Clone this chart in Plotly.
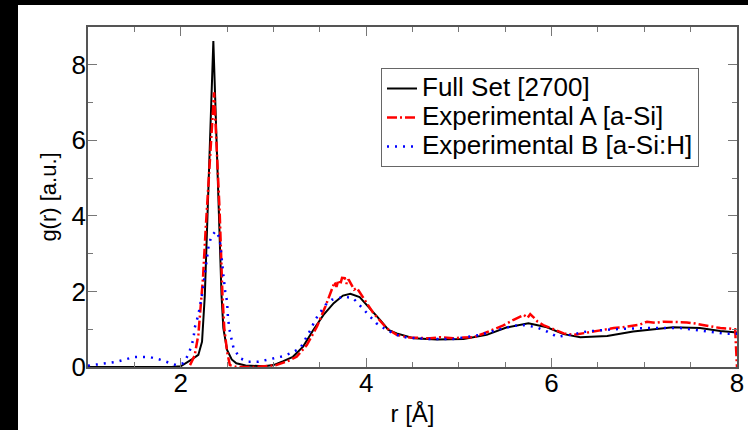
import plotly.graph_objects as go

# Full Set [2700]
full_r = [1.0, 1.5, 1.9, 2.0, 2.06, 2.12, 2.19, 2.23, 2.26, 2.352, 2.44, 2.46, 2.50, 2.55, 2.6, 2.7,
          2.9, 3.0, 3.1, 3.21, 3.32, 3.43, 3.54, 3.65, 3.75, 3.83, 3.93, 4.04, 4.15, 4.24, 4.33,
          4.51, 4.76, 5.05, 5.3, 5.52, 5.75, 5.95, 6.13, 6.31, 6.6, 6.88, 7.1, 7.31, 7.6, 7.82, 8.0]
full_g = [0, 0, 0, 0.02, 0.1, 0.2, 0.32, 0.67, 1.9, 8.63, 1.91, 1.03, 0.45, 0.2, 0.1, 0.04,
          0.02, 0.05, 0.15, 0.27, 0.54, 0.98, 1.38, 1.69, 1.89, 1.94, 1.85, 1.56, 1.25, 0.98, 0.89,
          0.76, 0.73, 0.74, 0.85, 1.05, 1.16, 1.05, 0.87, 0.79, 0.82, 0.94, 1.0, 1.05, 1.03, 0.95, 0.91]

# Experimental A [a-Si]
expa_r = [2.10, 2.15, 2.19, 2.21, 2.24, 2.27, 2.29, 2.36, 2.42, 2.43, 2.45, 2.47, 2.50, 2.53, 2.6,
          2.8, 2.95, 3.03, 3.15, 3.25, 3.36, 3.47, 3.56, 3.63, 3.66, 3.68, 3.70, 3.72, 3.74, 3.77,
          3.79, 3.81, 3.84, 3.87, 3.9, 3.97, 4.08, 4.22, 4.33, 4.47, 4.69, 4.8, 4.94, 5.05, 5.16,
          5.26, 5.37, 5.48, 5.59, 5.65, 5.7, 5.74, 5.77, 5.8, 5.85, 5.91, 6.02, 6.13, 6.24, 6.35,
          6.45, 6.55, 6.67, 6.76, 6.85, 6.95, 7.03, 7.12, 7.21, 7.33, 7.46, 7.55, 7.67, 7.75, 7.82,
          7.9, 7.98, 8.0]
expa_g = [0.05, 0.3, 0.85, 1.47, 2.35, 3.69, 4.56, 7.27, 4.12, 3.24, 1.91, 1.03, 0.41, 0.05, 0.0,
          0.0, 0.02, 0.05, 0.15, 0.27, 0.58, 1.07, 1.6, 2.04, 2.25, 2.12, 2.3, 2.18, 2.36, 2.35,
          2.2, 2.32, 2.18, 2.05, 2.09, 1.82, 1.42, 1.03, 0.85, 0.78, 0.76, 0.79, 0.76, 0.78, 0.79,
          0.88, 0.98, 1.1, 1.25, 1.33, 1.38, 1.3, 1.4, 1.33, 1.2, 1.11, 1.0, 0.89, 0.85, 0.9,
          0.94, 0.98, 1.03, 1.05, 1.09, 1.12, 1.2, 1.17, 1.2, 1.19, 1.18, 1.15, 1.09, 1.07, 1.03,
          1.02, 1.0, 0.0]

# Experimental B [a-Si:H]
expb_r = [1.0, 1.02, 1.11, 1.2, 1.31, 1.4, 1.49, 1.57, 1.67, 1.77, 1.86, 1.95, 2.03, 2.08, 2.12,
          2.14, 2.15, 2.19, 2.23, 2.25, 2.28, 2.30, 2.33, 2.378, 2.42, 2.44, 2.46, 2.48, 2.50, 2.51,
          2.53, 2.57, 2.64, 2.73, 2.84, 2.93, 3.02, 3.11, 3.2, 3.29, 3.34, 3.41, 3.45, 3.5, 3.56,
          3.63, 3.7, 3.77, 3.86, 3.93, 4.0, 4.06, 4.11, 4.22, 4.33, 4.44, 4.69, 4.94, 5.23, 5.41,
          5.59, 5.7, 5.84, 5.95, 6.06, 6.2, 6.38, 6.67, 7.03, 7.39, 7.64, 7.89, 8.0]
expb_g = [0.03, 0.05, 0.07, 0.1, 0.14, 0.2, 0.26, 0.27, 0.26, 0.2, 0.12, 0.05, 0.1, 0.32, 0.58,
          0.8, 1.03, 1.38, 1.91, 2.3, 2.93, 3.19, 3.46, 3.6, 3.41, 2.8, 2.44, 2.0, 1.73, 1.29,
          0.94, 0.5, 0.23, 0.14, 0.14, 0.19, 0.23, 0.29, 0.38, 0.5, 0.72, 1.03, 1.25, 1.42, 1.64,
          1.78, 1.82, 1.86, 1.82, 1.64, 1.47, 1.29, 1.16, 0.98, 0.85, 0.78, 0.74, 0.74, 0.85, 0.98,
          1.09, 1.11, 1.05, 0.94, 0.8, 0.85, 0.94, 1.0, 1.03, 1.03, 0.96, 0.88, 0.88]

series_names = ["Full Set [2700]", "Experimental A [a-Si]", "Experimental B [a-Si:H]"]

x_ticks = [2, 4, 6, 8]
y_ticks = [0, 2, 4, 6, 8]

FONT = "Liberation Sans, Arial, Helvetica, sans-serif"
LEGEND_TEXT = "<span style='font-size:26px'>{}</span>"

fig = go.Figure()
fig.add_trace(go.Scatter(x=full_r, y=full_g, mode="lines", name=LEGEND_TEXT.format(series_names[0]),
                         line=dict(color="black", width=2)))
fig.add_trace(go.Scatter(x=expa_r, y=expa_g, mode="lines", name=LEGEND_TEXT.format(series_names[1]),
                         line=dict(color="#ff0000", width=2.5, dash="10px,3px,2px,3px")))
fig.add_trace(go.Scatter(x=expb_r, y=expb_g, mode="lines", name=LEGEND_TEXT.format(series_names[2]),
                         line=dict(color="#0000ff", width=2.5, dash="2px,6px")))

axis_common = dict(
    showgrid=False, zeroline=False, showline=True, linecolor="#555555", linewidth=1.5,
    mirror="ticks", ticks="inside", tickcolor="#777777", ticklen=9, tickwidth=1,
    tickfont=dict(family=FONT, size=26, color="black"),
)

fig.update_xaxes(range=[1, 8], tickvals=x_ticks, ticktext=[str(v) for v in x_ticks],
                 minor=dict(dtick=0.5, tick0=0, ticks="inside", ticklen=5, tickcolor="#777777"),
                 ticklabelstandoff=-8,
                 title=dict(text="r [Å]", font=dict(family=FONT, size=24, color="black"), standoff=8),
                 **axis_common)
fig.update_yaxes(range=[0, 9], tickvals=y_ticks, ticktext=[str(v) for v in y_ticks],
                 minor=dict(dtick=1, tick0=0, ticks="inside", ticklen=5, tickcolor="#777777"),
                 ticklabelstandoff=-5,
                 title=dict(text="g(r) [a.u.]", font=dict(family=FONT, size=22, color="black"), standoff=9),
                 **axis_common)

# page: black frame on the left (18 px) and top (5 px); figure fills the rest
OFF_X, OFF_Y = 18, 5
W, H = 748 - OFF_X, 430 - OFF_Y
L, R, T, B = 88 - OFF_X, 11, 27 - OFF_Y, 63
pw, ph = W - L - R, H - T - B


def px_x(p):
    return (p - OFF_X - L) / pw


def px_y(p):
    return (H - B - (p - OFF_Y)) / ph


fig.update_layout(
    width=W, height=H,
    margin=dict(l=L, r=R, t=T, b=B, autoexpand=False),
    paper_bgcolor="white", plot_bgcolor="white",
    showlegend=True,
    legend=dict(x=px_x(381), y=px_y(68), xanchor="left", yanchor="top",
                bgcolor="white", bordercolor="#666666", borderwidth=1,
                font=dict(family=FONT, size=20, color="black"),
                tracegroupgap=0, itemwidth=30),
)

post = (
    "document.documentElement.style.background='white';"
    "document.body.style.margin='0px';"
    "document.body.style.background='white';"
    "document.body.style.overflow='hidden';"
    "document.body.style.borderLeft='%dpx solid black';"
    "document.body.style.borderTop='%dpx solid black';"
    "document.body.style.minHeight='500px';"
) % (OFF_X, OFF_Y)

fig.write_html("out.html", config={"displayModeBar": False}, post_script=post)
